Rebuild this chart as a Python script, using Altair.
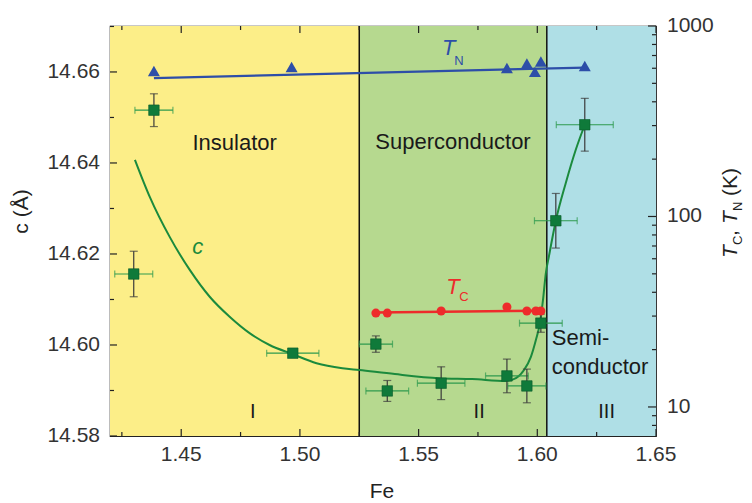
import altair as alt
import pandas as pd

# ---------------- data ----------------
region_name = ["Insulator", "Superconductor", "Semiconductor"]
region_start = [1.42, 1.525, 1.604]
region_end = [1.525, 1.604, 1.65]

# lattice parameter c with error bars
fe_c = [1.4300, 1.4385, 1.4970, 1.5320, 1.5368, 1.5595, 1.5872, 1.5956, 1.6015, 1.6078, 1.6200]
c_val = [14.6156, 14.6516, 14.5982, 14.6002, 14.5899, 14.5916, 14.5932, 14.5910, 14.6048, 14.6273, 14.6484]
c_err = [0.0050, 0.0036, 0.0008, 0.0018, 0.0023, 0.0036, 0.0037, 0.0037, 0.0020, 0.0060, 0.0058]
fe_err = [0.0080, 0.0080, 0.0110, 0.0070, 0.0090, 0.0100, 0.0090, 0.0080, 0.0090, 0.0090, 0.0120]

# guide-to-the-eye curve for c
fit_fe = [1.4305, 1.4368, 1.4452, 1.4536, 1.4620, 1.4704, 1.4788, 1.4872, 1.4969, 1.5070,
          1.5179, 1.5250, 1.5400, 1.5586, 1.5725, 1.5868, 1.5910, 1.5944, 1.5973, 1.5994,
          1.6011, 1.6024, 1.6036, 1.6049, 1.6078, 1.6120, 1.6162, 1.6200]
fit_c = [14.6407, 14.6325, 14.6237, 14.6165, 14.6106, 14.6062, 14.6026, 14.6000, 14.5980, 14.5960,
         14.5949, 14.5945, 14.5936, 14.5927, 14.5925, 14.5921, 14.5927, 14.5945, 14.5974, 14.6011,
         14.6048, 14.6099, 14.6158, 14.6195, 14.6273, 14.6356, 14.6429, 14.6484]

# Neel temperature T_N (K)
tn_fe = [1.4385, 1.4965, 1.5872, 1.5956, 1.5990, 1.6015, 1.6200]
tn_val = [580, 609, 602, 635, 574, 651, 617]
tn_fit_fe = [1.4385, 1.6200]
tn_fit = [533, 605]

# superconducting T_C (K)
tc_fe = [1.5320, 1.5368, 1.5595, 1.5872, 1.5956, 1.5994, 1.6015]
tc_val = [31.1, 31.1, 31.9, 33.5, 31.9, 31.9, 31.9]
tc_fit_fe = [1.5320, 1.6015]
tc_fit = [31.3, 32.0]

# ticks and tick labels
x_major = [1.45, 1.50, 1.55, 1.60, 1.65]
x_labels = ["1.45", "1.50", "1.55", "1.60", "1.65"]
x_minor = [1.425, 1.475, 1.525, 1.575, 1.625]
c_major = [14.58, 14.60, 14.62, 14.64, 14.66]
c_labels = ["14.58", "14.60", "14.62", "14.64", "14.66"]
c_minor = [14.59, 14.61, 14.63, 14.65, 14.67]
t_major = [10, 100, 1000]
t_labels = ["10", "100", "1000"]
t_minor = [8, 9, 20, 30, 40, 50, 60, 70, 80, 90, 200, 300, 400, 500, 600, 700, 800, 900]

# ---------------- styling ----------------
W, H = 546, 410
FONT = "Liberation Sans"
LBL = "#333333"
BLUE = "#2D4EA8"
RED = "#EE2B2B"
GREEN_LINE = "#1B8A3D"
GREEN_SQ = "#0F7A3A"
GREEN_ERR = "#2E9A4E"

xs = alt.Scale(domain=[1.42, 1.65], nice=False, zero=False)
cs = alt.Scale(domain=[14.58, 14.6701], nice=False, zero=False)
ts = alt.Scale(type="log", domain=[7.04, 1000], nice=False)

one = pd.DataFrame({"a": [0]})


def X(field, **kw):
    return alt.X(field, scale=xs, axis=None, **kw)


def Yc(field):
    return alt.Y(field, scale=cs, axis=None)


def Yt(field):
    return alt.Y(field, scale=ts, axis=None)


def txt_c(text, x, y, size=22, color="#1a1a1a", align="center", style="normal"):
    return alt.Chart(one).mark_text(text=text, font=FONT, fontSize=size, color=color,
                                    align=align, baseline="middle", fontStyle=style).encode(
        x=alt.XDatum(x, type="quantitative", scale=xs, axis=None),
        y=alt.YDatum(y, type="quantitative", scale=cs, axis=None))


def txt_t(text, x, y, size=22, color="#1a1a1a", align="left", style="normal"):
    return alt.Chart(one).mark_text(text=text, font=FONT, fontSize=size, color=color,
                                    align=align, baseline="middle", fontStyle=style).encode(
        x=alt.XDatum(x, type="quantitative", scale=xs, axis=None),
        y=alt.YDatum(y, type="quantitative", scale=ts, axis=None))


def txt_px(text, x, y, size=21, angle=0, align="center", baseline="middle", style="normal", color="#222222"):
    kw = dict(text=text, font=FONT, fontSize=size, color=color, align=align,
              baseline=baseline, fontStyle=style)
    if angle:
        kw["angle"] = angle
    return alt.Chart(one).mark_text(**kw).encode(x=alt.value(x), y=alt.value(y))


# ---------------- background regions ----------------
bg_df = pd.DataFrame({"start": region_start, "end": region_end, "name": region_name})
bg = alt.Chart(bg_df).mark_rect().encode(
    x=X("start:Q"),
    x2="end:Q",
    y=alt.value(0), y2=alt.value(H),
    color=alt.Color("name:N", scale=alt.Scale(domain=region_name,
                                               range=["#FCEE88", "#B6D98F", "#AFDFE6"]),
                    legend=None),
)

div = alt.Chart(pd.DataFrame({"b": region_start[1:]})).mark_rule(color="#111111", strokeWidth=1.5).encode(
    x=X("b:Q"), y=alt.value(0), y2=alt.value(H))


# ---------------- inward ticks ----------------
def xt(vals, L):
    d = pd.DataFrame({"v": vals})
    b = alt.Chart(d).mark_rule(color="#222222", strokeWidth=1.2).encode(
        x=X("v:Q"), y=alt.value(H), y2=alt.value(H - L))
    t = alt.Chart(d).mark_rule(color="#222222", strokeWidth=1.2).encode(
        x=X("v:Q"), y=alt.value(0), y2=alt.value(L))
    return [b, t]


def ct(vals, L):
    d = pd.DataFrame({"v": vals})
    return alt.Chart(d).mark_rule(color="#222222", strokeWidth=1.2).encode(
        y=Yc("v:Q"), x=alt.value(0), x2=alt.value(L))


def tt(vals, L):
    d = pd.DataFrame({"v": vals})
    return alt.Chart(d).mark_rule(color="#222222", strokeWidth=1.2).encode(
        y=Yt("v:Q"), x=alt.value(W), x2=alt.value(W - L))


# ---------------- tick labels ----------------
x_lab = alt.Chart(pd.DataFrame({"v": x_major, "lab": x_labels})).mark_text(
    font=FONT, fontSize=21, color=LBL, baseline="middle", align="center").encode(
    x=X("v:Q"), y=alt.value(H + 19), text="lab:N")
c_lab = alt.Chart(pd.DataFrame({"v": c_major, "lab": c_labels})).mark_text(
    font=FONT, fontSize=21, color=LBL, baseline="middle", align="right").encode(
    y=Yc("v:Q"), x=alt.value(-10), text="lab:N")
t_lab = alt.Chart(pd.DataFrame({"v": t_major, "lab": t_labels})).mark_text(
    font=FONT, fontSize=21, color=LBL, baseline="middle", align="left").encode(
    y=Yt("v:Q"), x=alt.value(W + 11), text="lab:N")

# ---------------- c data ----------------
c_df = pd.DataFrame({"fe": fe_c, "c": c_val, "ce": c_err, "fe_e": fe_err})
c_df["c_lo"] = c_df["c"] - c_df["ce"]
c_df["c_hi"] = c_df["c"] + c_df["ce"]
c_df["fe_lo"] = c_df["fe"] - c_df["fe_e"]
c_df["fe_hi"] = c_df["fe"] + c_df["fe_e"]

fit_df = pd.DataFrame({"fe": fit_fe, "c": fit_c})
fit_line = alt.Chart(fit_df).mark_line(color=GREEN_LINE, strokeWidth=2, interpolate="monotone").encode(
    x=X("fe:Q"), y=Yc("c:Q"))

xerr = alt.Chart(c_df).mark_rule(color=GREEN_ERR, strokeWidth=1.2).encode(
    x=X("fe_lo:Q"), x2="fe_hi:Q", y=Yc("c:Q"))
xcap_lo = alt.Chart(c_df).mark_tick(color=GREEN_ERR, orient="vertical", size=7, thickness=1.2).encode(
    x=X("fe_lo:Q"), y=Yc("c:Q"))
xcap_hi = alt.Chart(c_df).mark_tick(color=GREEN_ERR, orient="vertical", size=7, thickness=1.2).encode(
    x=X("fe_hi:Q"), y=Yc("c:Q"))
yerr = alt.Chart(c_df).mark_rule(color="#3a3a3a", strokeWidth=1.2).encode(
    x=X("fe:Q"), y=Yc("c_lo:Q"), y2="c_hi:Q")
ycap_lo = alt.Chart(c_df).mark_tick(color="#3a3a3a", orient="horizontal", size=8, thickness=1.2).encode(
    x=X("fe:Q"), y=Yc("c_lo:Q"))
ycap_hi = alt.Chart(c_df).mark_tick(color="#3a3a3a", orient="horizontal", size=8, thickness=1.2).encode(
    x=X("fe:Q"), y=Yc("c_hi:Q"))
squares = alt.Chart(c_df).mark_point(shape="square", filled=True, size=110, color=GREEN_SQ,
                                     opacity=1, stroke="#0a5a2a", strokeWidth=0.6).encode(
    x=X("fe:Q"), y=Yc("c:Q"))

left_texts = [
    txt_c("Insulator", 1.4725, 14.6444),
    txt_c("Superconductor", 1.5645, 14.6446),
    txt_c("Semi-", 1.6061, 14.6015, align="left"),
    txt_c("conductor", 1.6061, 14.5952, align="left"),
    txt_c("I", 1.4801, 14.5853, size=20),
    txt_c("II", 1.5755, 14.5853, size=20),
    txt_c("III", 1.6292, 14.5853, size=20),
    txt_c("c", 1.4570, 14.6215, size=22, color=GREEN_LINE, style="italic"),
]

titles = [
    txt_px("c (Å)", -88, 185.5, size=21, angle=270),
    txt_px("Fe", 272, 466, size=21),
    # right axis title: T_C, T_N (K)
    txt_px("T", 627, 232, size=21, angle=270, align="left", baseline="alphabetic", style="italic"),
    txt_px("C", 632, 219, size=13, angle=270, align="left", baseline="alphabetic"),
    txt_px(",", 627, 210, size=21, angle=270, align="left", baseline="alphabetic"),
    txt_px("T", 627, 198, size=21, angle=270, align="left", baseline="alphabetic", style="italic"),
    txt_px("N", 632, 185, size=13, angle=270, align="left", baseline="alphabetic"),
    txt_px("(K)", 627, 170, size=21, angle=270, align="left", baseline="alphabetic"),
]

left = alt.layer(
    bg, div, *xt(x_minor, 4), *xt(x_major, 7), ct(c_minor, 4), ct(c_major, 7),
    fit_line, xerr, xcap_lo, xcap_hi, yerr, ycap_lo, ycap_hi, squares,
    x_lab, c_lab, *left_texts, *titles,
)

# ---------------- temperatures (right, log) ----------------
tn_line = alt.Chart(pd.DataFrame({"fe": tn_fit_fe, "t": tn_fit})).mark_line(
    color=BLUE, strokeWidth=2.2).encode(x=X("fe:Q"), y=Yt("t:Q"))
tn_pts = alt.Chart(pd.DataFrame({"fe": tn_fe, "t": tn_val})).mark_point(
    shape="triangle-up", filled=True, size=144, color=BLUE, opacity=1).encode(
    x=X("fe:Q"), y=Yt("t:Q"))

tc_line = alt.Chart(pd.DataFrame({"fe": tc_fit_fe, "t": tc_fit})).mark_line(
    color=RED, strokeWidth=2.5).encode(x=X("fe:Q"), y=Yt("t:Q"))
tc_pts = alt.Chart(pd.DataFrame({"fe": tc_fe, "t": tc_val})).mark_point(
    shape="circle", filled=True, size=81, color=RED, opacity=1).encode(
    x=X("fe:Q"), y=Yt("t:Q"))

right_texts = [
    txt_t("T", 1.5599, 771, size=22, color=BLUE, style="italic"),
    txt_t("N", 1.5650, 655, size=13, color=BLUE),
    txt_t("T", 1.5616, 42.4, size=22, color=RED, style="italic"),
    txt_t("C", 1.5671, 38.0, size=13, color=RED),
]

right = alt.layer(tt(t_minor, 4), tt(t_major, 8), tn_line, tn_pts, tc_line, tc_pts,
                  t_lab, *right_texts)

chart = alt.layer(left, right).resolve_scale(y="independent").properties(
    width=W, height=H,
    autosize=alt.AutoSizeParams(type="none"),
    padding={"left": 110, "top": 26, "right": 96, "bottom": 67},
    background="white",
).configure_view(stroke="#222222", strokeWidth=1.2)

chart.save("out.html", embed_options={"renderer": "svg", "actions": False})
